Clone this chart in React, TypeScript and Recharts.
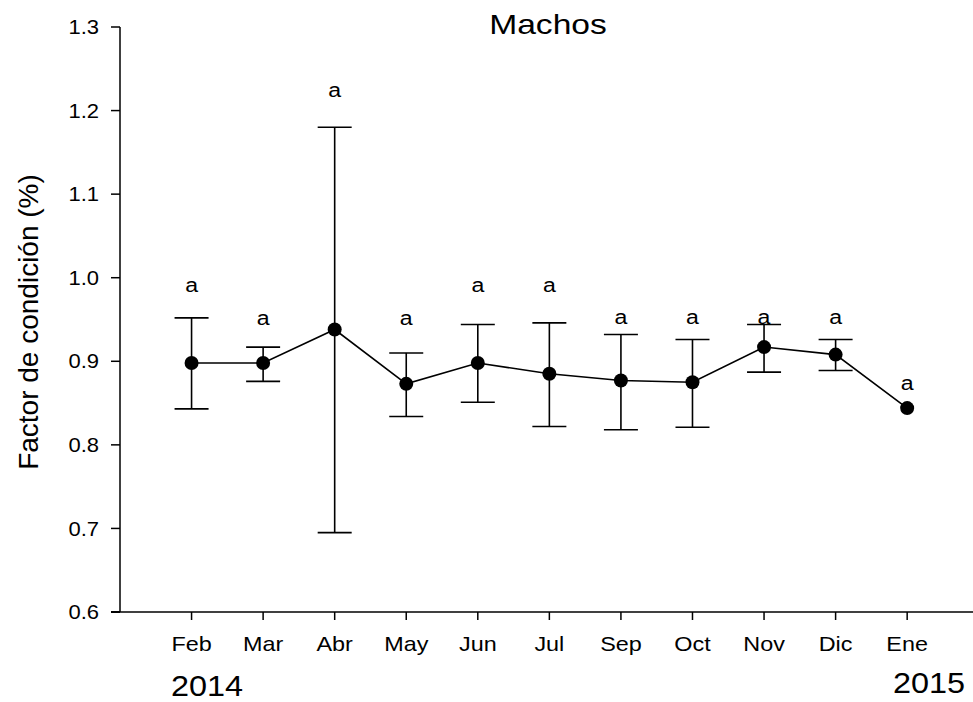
import React from 'react';
import { LineChart, Line, XAxis, YAxis, ErrorBar, LabelList } from 'recharts';

const months = ['Feb', 'Mar', 'Abr', 'May', 'Jun', 'Jul', 'Sep', 'Oct', 'Nov', 'Dic', 'Ene'];
const meanValues = [0.898, 0.898, 0.938, 0.873, 0.898, 0.885, 0.877, 0.875, 0.917, 0.908, 0.844];
const upperValues: (number | null)[] = [0.952, 0.917, 1.18, 0.91, 0.944, 0.946, 0.932, 0.926, 0.944, 0.926, null];
const lowerValues: (number | null)[] = [0.843, 0.876, 0.695, 0.834, 0.851, 0.822, 0.818, 0.821, 0.887, 0.889, null];
const letters = ['a', 'a', 'a', 'a', 'a', 'a', 'a', 'a', 'a', 'a', 'a'];
const letterHeights = [0.991, 0.952, 1.225, 0.952, 0.991, 0.991, 0.953, 0.953, 0.953, 0.953, 0.874];
const yTicks = [0.6, 0.7, 0.8, 0.9, 1.0, 1.1, 1.2, 1.3];
const xTicks = months.map((_, i) => i);
const title = 'Machos';
const yLabel = 'Factor de condición (%)';
const yearStart = '2014';
const yearEnd = '2015';

const FONT = "'Liberation Sans', Arial, sans-serif";

const data = months.map((m, i) => ({
  idx: i,
  month: m,
  mean: meanValues[i],
  err:
    upperValues[i] != null && lowerValues[i] != null
      ? [meanValues[i] - (lowerValues[i] as number), (upperValues[i] as number) - meanValues[i]]
      : null,
  letterY: letterHeights[i],
  letter: letters[i],
}));

const LetterLabel = (props: any) => {
  const { x, y, value } = props;
  return (
    <g transform={`translate(${x},${y}) scale(1.1,1)`}>
      <text x={0} y={0} textAnchor="middle" dominantBaseline="central" fontSize={21} fontFamily={FONT} fill="#000">
        {value}
      </text>
    </g>
  );
};

const XTick = (props: any) => {
  const { x, y, payload } = props;
  return (
    <g transform={`translate(${x},${y}) scale(1.17,1)`}>
      <text x={0} y={0} dy="0.71em" textAnchor="middle" fontSize={20} fontFamily={FONT} fill="#000">
        {months[payload.value]}
      </text>
    </g>
  );
};

const YTick = (props: any) => {
  const { x, y, payload } = props;
  return (
    <g transform={`translate(${x},${y}) scale(1.1,1)`}>
      <text x={0} y={0} dy="0.355em" textAnchor="end" fontSize={20} fontFamily={FONT} fill="#000">
        {Number(payload.value).toFixed(1)}
      </text>
    </g>
  );
};

export default function App() {
  return (
    <div style={{ position: 'absolute', left: 0, top: 0, width: 973, height: 702, background: '#fff', fontFamily: FONT }}>
      <LineChart width={973} height={702} data={data} margin={{ top: 27, right: 0, left: 0, bottom: 0 }}>
        <XAxis
          type="number"
          dataKey="idx"
          domain={[-1, 10.92]}
          ticks={xTicks}
          interval={0}
          allowDataOverflow
          axisLine={{ stroke: '#000', strokeWidth: 1.5 }}
          tickLine={{ stroke: '#000', strokeWidth: 1.5 }}
          tickSize={8}
          tickMargin={17}
          tick={<XTick />}
          height={90}
        />
        <YAxis
          type="number"
          domain={[0.6, 1.3]}
          ticks={yTicks}
          interval={0}
          allowDataOverflow
          axisLine={{ stroke: '#000', strokeWidth: 1.5 }}
          tickLine={{ stroke: '#000', strokeWidth: 1.5 }}
          tickSize={9}
          tickMargin={12}
          tick={<YTick />}
          width={120}
        />
        <Line
          dataKey="mean"
          stroke="#000"
          strokeWidth={1.6}
          isAnimationActive={false}
          dot={{ r: 7, fill: '#000', stroke: '#000', strokeWidth: 0 }}
          activeDot={false}
        >
          <ErrorBar dataKey="err" width={17} stroke="#000" strokeWidth={1.6} direction="y" isAnimationActive={false} />
        </Line>
        <Line
          dataKey="letterY"
          stroke="none"
          isAnimationActive={false}
          dot={false}
          activeDot={false}
        >
          <LabelList dataKey="letter" content={LetterLabel} />
        </Line>
      </LineChart>
      <div style={{ position: 'absolute', left: 111, top: 611.25, width: 9, height: 1.5, background: '#000' }} />
      <div style={{ position: 'absolute', left: 548, top: 25, transform: 'translate(-50%,-50%) scaleX(1.2)', fontSize: 28, whiteSpace: 'nowrap', color: '#000' }}>
        {title}
      </div>
      <div style={{ position: 'absolute', left: 29, top: 322, transform: 'translate(-50%,-50%) rotate(-90deg)', fontSize: 28, whiteSpace: 'nowrap', color: '#000' }}>
        {yLabel}
      </div>
      <div style={{ position: 'absolute', left: 207, top: 686, transform: 'translate(-50%,-50%) scaleX(1.08)', fontSize: 30, whiteSpace: 'nowrap', color: '#000' }}>
        {yearStart}
      </div>
      <div style={{ position: 'absolute', left: 929, top: 683, transform: 'translate(-50%,-50%) scaleX(1.08)', fontSize: 30, whiteSpace: 'nowrap', color: '#000' }}>
        {yearEnd}
      </div>
    </div>
  );
}
